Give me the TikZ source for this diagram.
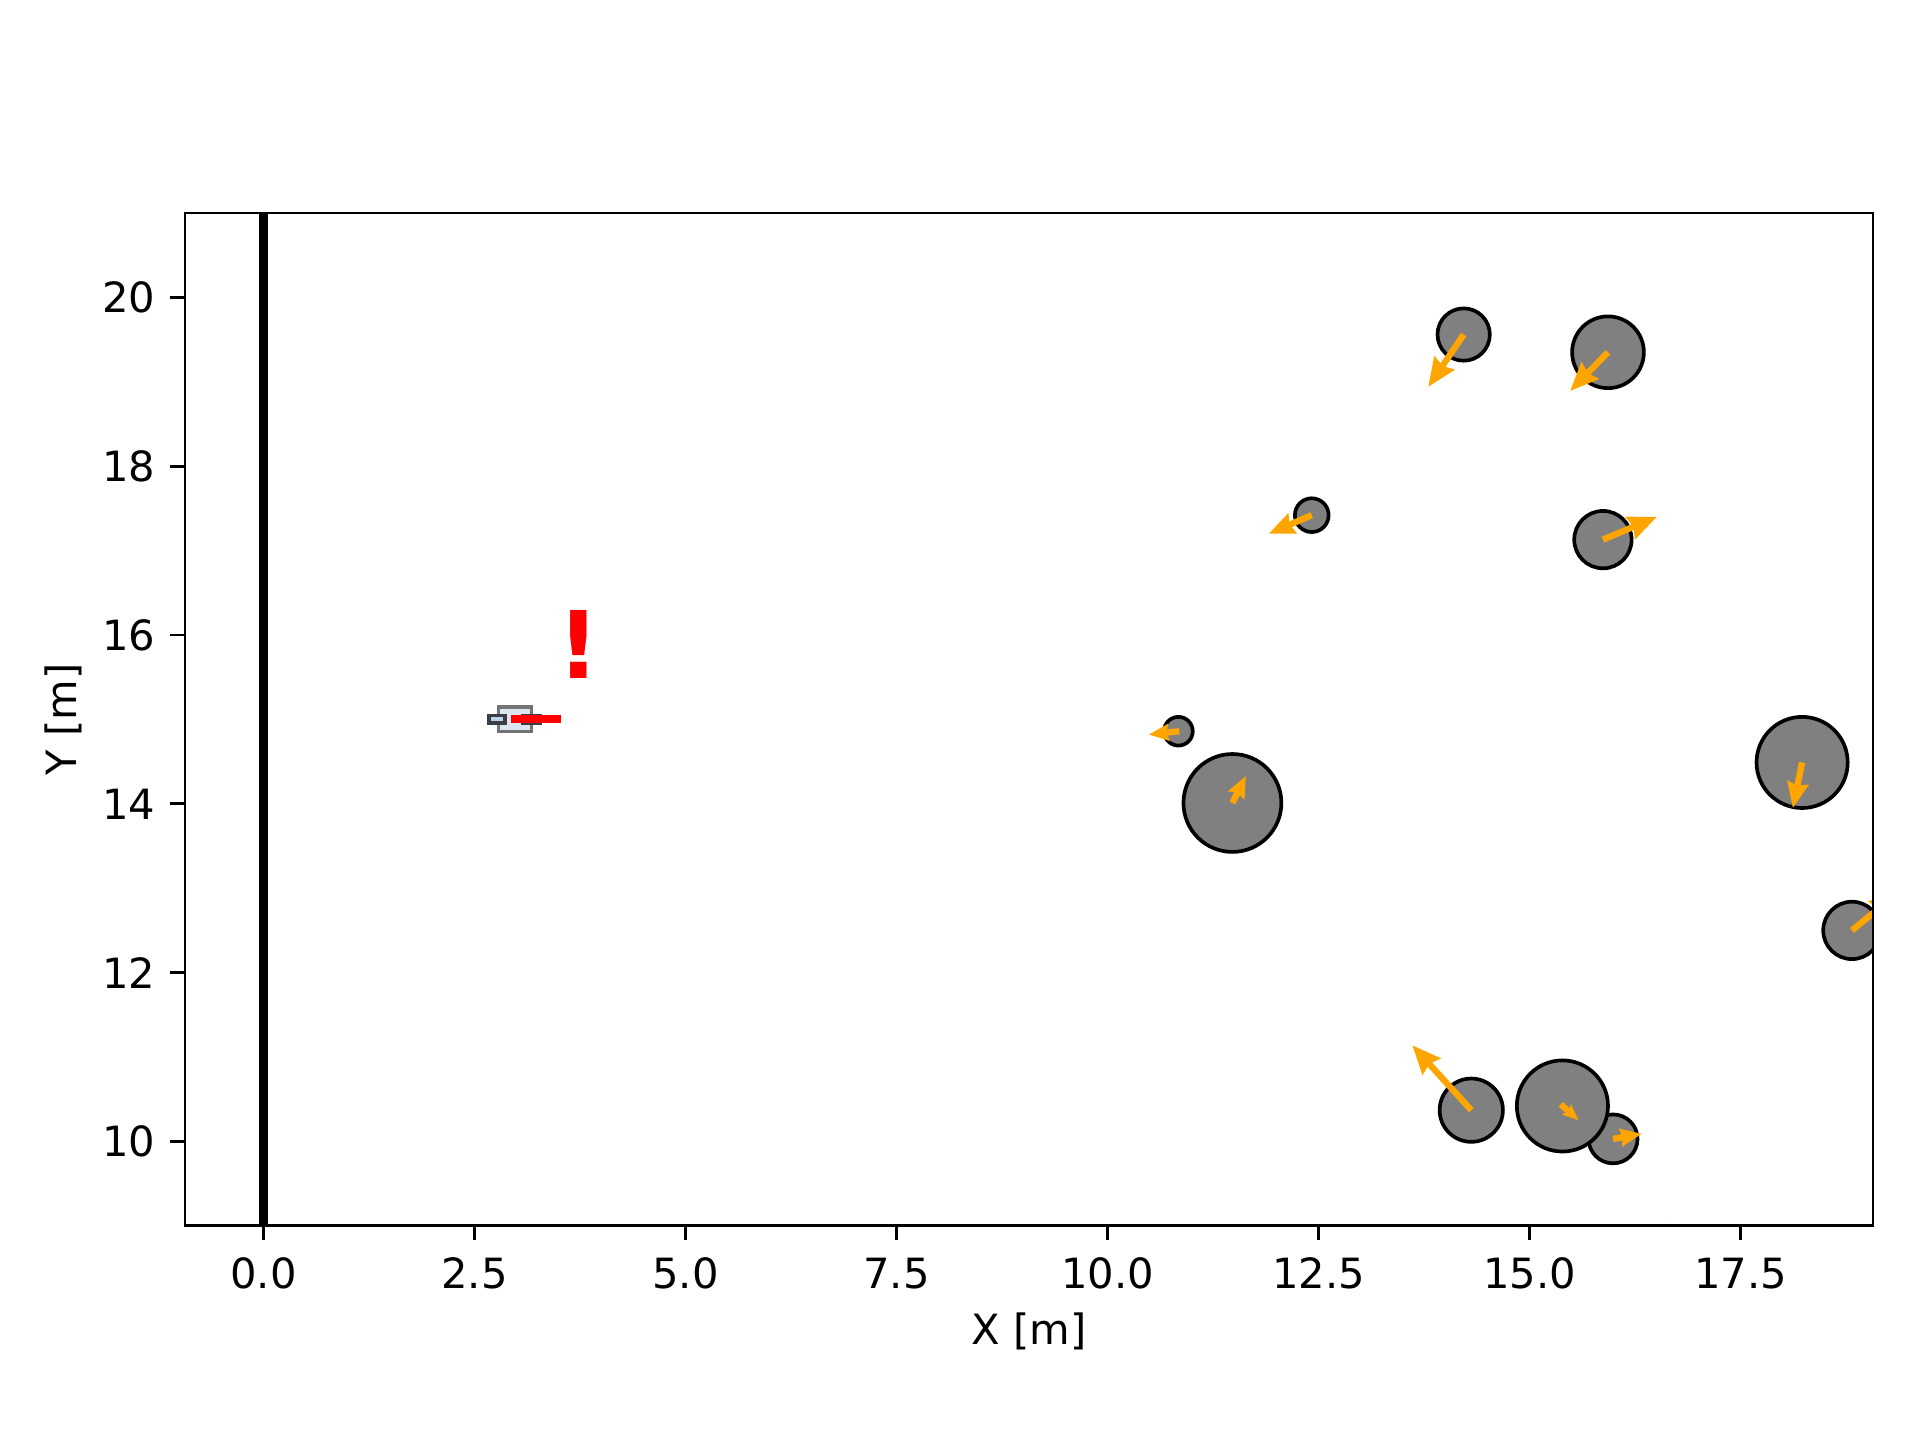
\documentclass[tikz,border=0pt]{standalone}
\usepackage{fontspec}
\setmainfont{DejaVu Sans}
\usetikzlibrary{arrows.meta}
\definecolor{ObstGray}{HTML}{808080}
\definecolor{VelOrange}{HTML}{FFA500}
\definecolor{BodyFill}{HTML}{DCE6F0}
\definecolor{BodyEdge}{HTML}{747474}
\definecolor{WheelEdge}{HTML}{3A3F45}
\definecolor{WheelFill}{HTML}{BCD4E6}
\definecolor{AlertRed}{RGB}{255, 0, 0}

\begin{document}
\begin{tikzpicture}[x=25.32bp, y=25.32bp, font=\fontsize{12.5bp}{15bp}\selectfont,
    obstacle/.style={fill=ObstGray, draw=black, line width=1.1bp},
    velocity/.style={draw=VelOrange, line width=1.9bp, -{Stealth[length=8.5bp, width=7bp, inset=0.9bp, scale=#1]}},
    velocity/.default=1,
    tickmark/.style={line width=0.8bp}]
    \useasboundingbox (-3.122, 6.462) rectangle (19.627, 23.524);

    % Everything inside the axes is clipped to the frame
    \begin{scope}
        \clip (-0.93, 9) rectangle (19.07, 21);

        % Wall at X = 0
        \draw[line width=2.7bp] (0, 9) -- (0, 21);

        % Obstacles (x / y / radius)
        \foreach \ox/\oy/\orad in {14.22/19.56/0.31, 15.93/19.35/0.425, 12.42/17.42/0.20,
                15.87/17.13/0.34, 10.84/14.86/0.17, 11.48/14.01/0.58, 18.23/14.49/0.54,
                18.82/12.50/0.34, 14.31/10.37/0.375, 15.99/10.03/0.29, 15.39/10.42/0.54}
            \filldraw[obstacle] (\ox, \oy) circle (\orad);

        % Obstacle velocities (x / y / vx / vy / head scale)
        \foreach \ox/\oy/\vx/\vy/\hs in {14.22/19.56/-0.42/-0.62/1, 15.93/19.35/-0.45/-0.46/1,
                12.42/17.42/-0.51/-0.22/0.9, 15.87/17.13/0.64/0.27/1, 10.85/14.86/-0.36/-0.04/0.7,
                11.48/14.01/0.16/0.32/0.75, 18.23/14.49/-0.11/-0.54/0.9, 18.82/12.50/0.55/0.45/1,
                14.31/10.37/-0.70/0.77/1, 15.37/10.44/0.21/-0.19/0.55, 15.99/10.03/0.34/0.06/0.75,
                16.58/8.60/0.04/0.43/0.6}
            \draw[velocity=\hs] (\ox, \oy) -- ++(\vx, \vy);

        % Robot body and wheels
        \filldraw[fill=BodyFill, draw=BodyEdge, line width=1bp] (2.783, 14.853) rectangle (3.177, 15.146);
        \filldraw[fill=WheelFill, draw=WheelEdge, line width=1bp] (2.673, 14.956) rectangle (2.861, 15.049);
        \filldraw[fill=WheelFill, draw=WheelEdge, line width=1bp] (3.072, 14.956) rectangle (3.275, 15.049);

        % Heading
        \draw[AlertRed, line width=2.4bp] (2.929, 15.0) -- (3.525, 15.0);
    \end{scope}

    % Warning mark
    \node[anchor=base, inner sep=0pt, text=AlertRed, font=\fontsize{28bp}{28bp}\selectfont\bfseries] (warn) at (3.74, 15.49) {!};

    % Axes frame
    \draw[line width=0.8bp] (-0.93, 9) rectangle (19.07, 21);

    % X ticks
    \foreach \xv/\xl in {0/0.0, 2.5/2.5, 5/5.0, 7.5/7.5, 10/10.0, 12.5/12.5, 15/15.0, 17.5/17.5} {
        \draw[tickmark] (\xv, 9) -- (\xv, 8.827);
        \node[anchor=base, inner sep=0pt] at (\xv, 8.26) {\xl};
    }

    % Y ticks
    \foreach \yv in {10, 12, 14, 16, 18, 20} {
        \draw[tickmark] (-0.93, \yv) -- (-1.103, \yv);
        \node[anchor=east, inner sep=0pt] at (-1.276, \yv) {\yv};
    }

    % Axis labels
    \node (xlabel) at (9.07, 7.75) {X [m]};
    \node[rotate=90] (ylabel) at (-2.37, 15) {Y [m]};
\end{tikzpicture}
\end{document}
